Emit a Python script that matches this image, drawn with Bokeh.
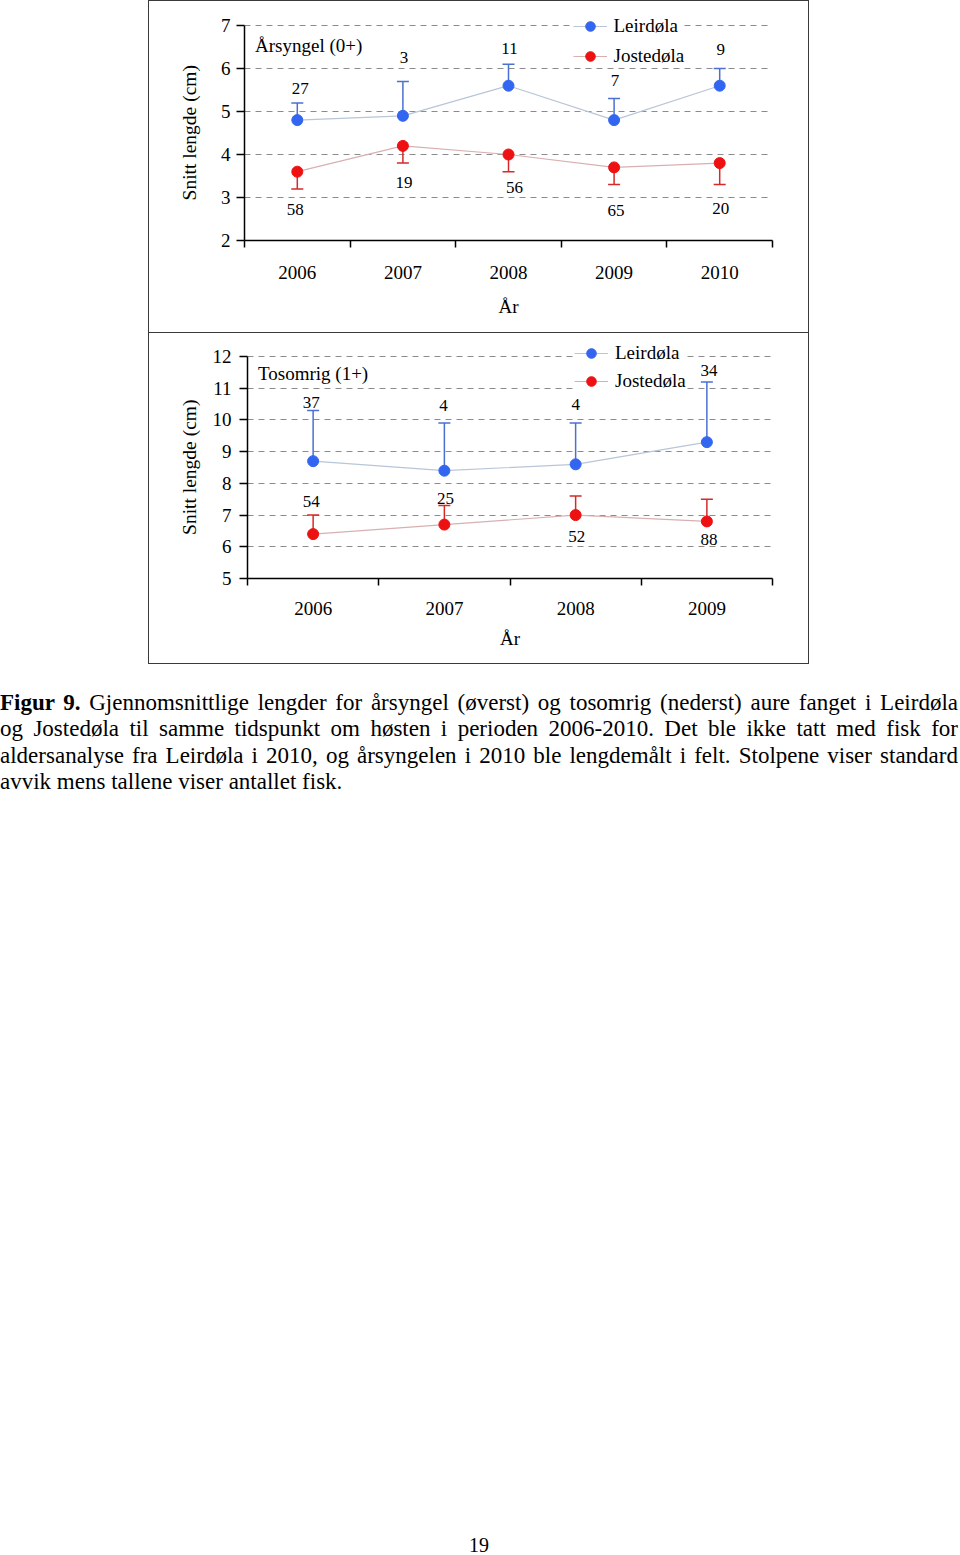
import numpy as np
from bokeh.plotting import figure
from bokeh.models import (Range1d, FixedTicker, ColumnDataSource, Whisker, TeeHead,
                          Legend, LegendItem, Label, Spacer, Div)
from bokeh.layouts import column, row
from bokeh.core.properties import value
from bokeh.embed import file_html
from bokeh.resources import INLINE

# ---------------- data ----------------
years_0 = ["2006", "2007", "2008", "2009", "2010"]
leir_0_mean = [4.8, 4.9, 5.6, 4.8, 5.6]
leir_0_sd = [0.4, 0.8, 0.5, 0.5, 0.4]
leir_0_n = [27, 3, 11, 7, 9]
jost_0_mean = [3.6, 4.2, 4.0, 3.7, 3.8]
jost_0_sd = [0.4, 0.4, 0.4, 0.4, 0.5]
jost_0_n = [58, 19, 56, 65, 20]
yticks_0 = [2, 3, 4, 5, 6, 7]

years_1 = ["2006", "2007", "2008", "2009"]
leir_1_mean = [8.7, 8.4, 8.6, 9.3]
leir_1_sd = [1.6, 1.5, 1.3, 1.9]
leir_1_n = [37, 4, 4, 34]
jost_1_mean = [6.4, 6.7, 7.0, 6.8]
jost_1_sd = [0.6, 0.6, 0.6, 0.7]
jost_1_n = [54, 25, 52, 88]
yticks_1 = [5, 6, 7, 8, 9, 10, 11, 12]

series_names = ["Leirdøla", "Jostedøla"]
titles = ["Årsyngel (0+)", "Tosomrig (1+)"]
y_title = "Snitt lengde (cm)"
x_title = "År"

# label pixel offsets (layout only)
lab_dx_0 = ([3, 1, 1, 1, 1], [-2, 1, 6, 2, 1])
lab_dy_0 = ([-32, -58, -37, -40, -36], [38, 37, 33, 43, 45])
lab_dx_1 = ([-2, -1, 0, 2], [-2, 1, 1, 2])
lab_dy_1 = ([-59, -65, -60, -72], [-33, -26, 21, 18])

FONT = "Liberation Serif"
BLUE = "#3366f0"
RED = "#ee1111"
BLUE_ERR = "#4a70d0"
RED_ERR = "#d42a2a"
BLUE_LINE = "#b8c6d8"
RED_LINE = "#d8b0b0"
W, H = 661, 332
# trailing spacing keeps the rotated axis title centred on the tick span
# (the frame is extended above the top tick so the legend is not clipped)
Y_TITLE_PAD = "\u2002\u2002"


def make_panel(years, means, sds, ns, up_flags, yticks, title, dxs, dys,
               borders, tick_span_px, pad_px, legend_loc, legend_spacing, title_dy,
               ylab_standoff, ytick_standoff, xlab_standoff, xtick_standoff):
    n = len(years)
    xs = np.arange(n) + 0.5
    y0, y1 = yticks[0], yticks[-1]
    y_end = y1 + pad_px * (y1 - y0) / tick_span_px
    p = figure(width=W, height=H, output_backend="svg", toolbar_location=None,
               x_range=Range1d(0, n), y_range=Range1d(y0, y_end),
               min_border_left=borders[0], min_border_right=borders[1],
               min_border_top=borders[2], min_border_bottom=borders[3],
               background_fill_color="white", border_fill_color="white")
    p.outline_line_color = None
    p.xgrid.visible = False
    p.ygrid.ticker = FixedTicker(ticks=yticks)
    p.ygrid.grid_line_color = "#8c8c8c"
    p.ygrid.grid_line_dash = "6 5"
    p.ygrid.grid_line_width = 1

    # y axis
    p.yaxis.ticker = FixedTicker(ticks=yticks)
    p.yaxis.bounds = (y0, y1)
    p.yaxis.axis_label = y_title + Y_TITLE_PAD
    p.yaxis.axis_label_text_font = FONT
    p.yaxis.axis_label_text_font_size = "19.5px"
    p.yaxis.axis_label_text_font_style = "normal"
    p.yaxis.axis_label_text_color = "black"
    p.yaxis.axis_label_standoff = ylab_standoff
    p.yaxis.major_label_text_font = FONT
    p.yaxis.major_label_text_font_size = "19px"
    p.yaxis.major_label_text_color = "black"
    p.yaxis.major_label_standoff = ytick_standoff
    p.yaxis.major_tick_out = 8
    p.yaxis.major_tick_in = 0
    p.yaxis.minor_tick_out = 0
    p.yaxis.minor_tick_in = 0
    p.yaxis.axis_line_color = "black"
    p.yaxis.axis_line_width = 1.5
    p.yaxis.major_tick_line_width = 1.5

    # x axis: labels centred in categories, ticks at category boundaries
    p.xaxis.ticker = FixedTicker(ticks=list(xs), minor_ticks=list(range(n + 1)))
    p.xaxis.major_label_overrides = {float(x): y for x, y in zip(xs, years)}
    p.xaxis.axis_label = x_title
    p.xaxis.axis_label_text_font = FONT
    p.xaxis.axis_label_text_font_size = "19px"
    p.xaxis.axis_label_text_font_style = "normal"
    p.xaxis.axis_label_text_color = "black"
    p.xaxis.axis_label_standoff = xlab_standoff
    p.xaxis.major_label_text_font = FONT
    p.xaxis.major_label_text_font_size = "19px"
    p.xaxis.major_label_text_color = "black"
    p.xaxis.major_label_standoff = xtick_standoff
    p.xaxis.major_tick_out = 0
    p.xaxis.major_tick_in = 0
    p.xaxis.minor_tick_out = 7
    p.xaxis.minor_tick_in = 0
    p.xaxis.minor_tick_line_color = "black"
    p.xaxis.minor_tick_line_width = 1.5
    p.xaxis.axis_line_color = "black"
    p.xaxis.axis_line_width = 1.5

    items = []
    colors = [(BLUE, BLUE_ERR, BLUE_LINE), (RED, RED_ERR, RED_LINE)]
    for k in range(2):
        m = np.array(means[k], dtype=float)
        s = np.array(sds[k], dtype=float)
        up = up_flags[k]
        src = ColumnDataSource(dict(x=xs, m=m, lo=(m if up else m - s), hi=(m + s if up else m),
                                    n=[str(v) for v in ns[k]], dx=dxs[k], dy=dys[k]))
        mc, ec, lc = colors[k]
        head = TeeHead(size=12, line_color=ec, line_width=1.5)
        w = Whisker(base="x", lower="lo", upper="hi", source=src, dimension="height",
                    line_color=ec, line_width=1.5,
                    upper_head=head if up else None,
                    lower_head=None if up else head)
        w.level = "underlay"
        p.add_layout(w)
        lr = p.line("x", "m", source=src, line_color=lc, line_width=1.2)
        sr = p.scatter("x", "m", source=src, size=11, fill_color=mc, line_color=mc)
        p.text("x", "m", text="n", x_offset="dx", y_offset="dy", source=src,
               text_font=value(FONT), text_font_size="17px", text_color="black",
               text_align="center", text_baseline="middle")
        items.append(LegendItem(label=series_names[k], renderers=[lr, sr]))

    leg = Legend(items=items, location=legend_loc, margin=0, padding=5,
                 background_fill_color="white", background_fill_alpha=1.0,
                 border_line_color=None, label_text_font=FONT, label_text_font_size="19px",
                 label_text_color="black", glyph_width=34, glyph_height=24,
                 label_height=20, label_standoff=7, spacing=legend_spacing)
    p.add_layout(leg)

    p.add_layout(Label(x=0, y=y1, x_offset=10.5, y_offset=title_dy, text=title,
                       text_font=FONT, text_font_size="19px", text_color="black",
                       text_baseline="middle", text_align="left"))
    return p


p1 = make_panel(years_0, (leir_0_mean, jost_0_mean), (leir_0_sd, jost_0_sd),
                (leir_0_n, jost_0_n), (True, False), yticks_0, titles[0],
                lab_dx_0, lab_dy_0, (96, 37, 5, 92), 215, 20, (328.5, 172.3), 6, -20.3,
                18, 6, 14, 18)
p2 = make_panel(years_1, (leir_1_mean, jost_1_mean), (leir_1_sd, jost_1_sd),
                (leir_1_n, jost_1_n), (True, True), yticks_1, titles[1],
                lab_dx_1, lab_dy_1, (99, 37, 4, 86), 221.7, 20, (327, 184.8), 4, -16.8,
                10, 8, 10, 16)

caption_lines = [
    "<b>Figur 9.</b> Gjennomsnittlige lengder for årsyngel (øverst) og tosomrig (nederst) aure fanget i Leirdøla",
    "og Jostedøla til samme tidspunkt om høsten i perioden 2006-2010. Det ble ikke tatt med fisk for",
    "aldersanalyse fra Leirdøla i 2010, og årsyngelen i 2010 ble lengdemålt i felt. Stolpene viser standard",
    "avvik mens tallene viser antallet fisk.",
]
line_html = ""
for i, ln in enumerate(caption_lines):
    last = "left" if i == len(caption_lines) - 1 else "justify"
    line_html += ("<div style=\"text-align:justify;text-align-last:%s;white-space:normal\">%s</div>"
                  % (last, ln))
html = (
    "<div style=\"position:relative;width:960px;height:865px;font-family:'Liberation Serif';color:#000\">"
    "<div style=\"position:absolute;left:0;top:0;width:958px;font-size:23px;line-height:26.3px\">"
    + line_html + "</div>"
    "<div style=\"position:absolute;left:0;top:845px;width:958px;text-align:center;"
    "font-size:20px;line-height:20px\">19</div></div>"
)
text_div = Div(text=html, width=960, height=865, margin=(0, 0, 0, 0))

# frames drawn around the two chart panels (overlay, takes no layout space)
frame_html = (
    "<div style=\"position:absolute;left:0;top:0;width:%dpx;height:%dpx;"
    "border:1.5px solid #3a3a3a;box-sizing:border-box\"></div>"
    "<div style=\"position:absolute;left:0;top:%dpx;width:%dpx;height:%dpx;"
    "border:1.5px solid #3a3a3a;border-top:none;box-sizing:border-box\"></div>"
) % (W, H + 1, H + 1, W, H - 1)
frame_div = Div(text=frame_html, width=W, height=2 * H, margin=(0, 0, 0, 0),
                styles={"position": "absolute", "left": "148px", "top": "0px",
                        "z-index": "10", "pointer-events": "none"})

layout = column(row(Spacer(width=148, height=H, margin=(0, 0, 0, 0)), p1),
                row(Spacer(width=148, height=H, margin=(0, 0, 0, 0)), p2),
                Spacer(width=960, height=26, margin=(0, 0, 0, 0)),
                text_div, frame_div)

open("out.html", "w").write(file_html(layout, INLINE))
